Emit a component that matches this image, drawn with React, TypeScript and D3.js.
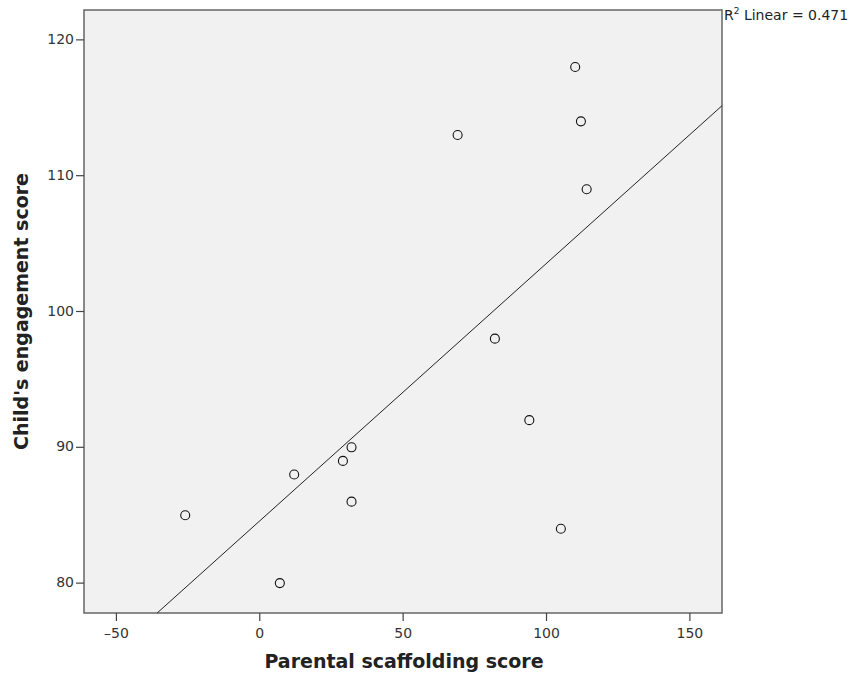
import * as d3 from "d3";

const scaffolding = [-26, 7, 12, 29, 32, 32, 69, 82, 94, 105, 110, 112, 114];
const engagement = [85, 80, 88, 89, 90, 86, 113, 98, 92, 84, 118, 114, 109];
const xTicks = [-50, 0, 50, 100, 150];
const yTicks = [80, 90, 100, 110, 120];
const rSquaredLabel = "0.471";

export default function App() {
  const width = 857;
  const height = 676;
  const left = 84;
  const right = 722;
  const top = 10;
  const bottom = 613;

  const x = d3.scaleLinear().domain([-61.3, 161.2]).range([left, right]);
  const y = d3.scaleLinear().domain([77.8, 122.2]).range([bottom, top]);

  // least squares fit line
  const mx = d3.mean(scaffolding) || 0;
  const my = d3.mean(engagement) || 0;
  let sxy = 0;
  let sxx = 0;
  scaffolding.forEach((v, i) => {
    sxy += (v - mx) * (engagement[i] - my);
    sxx += (v - mx) * (v - mx);
  });
  const slope = sxy / sxx;
  const intercept = my - slope * mx;
  const [x0, x1] = x.domain();
  const [y0] = y.domain();
  // clip the line to the plot frame
  const xStart = Math.max(x0, (y0 - intercept) / slope);
  const lineData: [number, number][] = [
    [xStart, intercept + slope * xStart],
    [x1, intercept + slope * x1],
  ];
  const line = d3
    .line<[number, number]>()
    .x((d) => x(d[0]))
    .y((d) => y(d[1]));

  const font = "'DejaVu Sans', sans-serif";

  return (
    <svg width={width} height={height} style={{ position: "absolute", left: 0, top: 0 }}>
      <rect x={0} y={0} width={width} height={height} fill="#fff" />
      <rect
        x={left}
        y={top}
        width={right - left}
        height={bottom - top}
        fill="#f1f1f1"
        stroke="#666"
        strokeWidth={1.5}
      />
      {yTicks.map((t) => (
        <g key={t}>
          <line x1={left - 8} x2={left} y1={y(t)} y2={y(t)} stroke="#444" strokeWidth={1.2} />
          <text
            x={left - 10}
            y={y(t)}
            textAnchor="end"
            dominantBaseline="middle"
            fontFamily={font}
            fontSize={14}
            fill="#333"
          >
            {t}
          </text>
        </g>
      ))}
      {xTicks.map((t) => (
        <g key={t}>
          <line x1={x(t)} x2={x(t)} y1={bottom} y2={bottom + 8} stroke="#444" strokeWidth={1.2} />
          <text
            x={x(t)}
            y={bottom + 21}
            textAnchor="middle"
            dominantBaseline="middle"
            fontFamily={font}
            fontSize={14}
            fill="#333"
          >
            {t < 0 ? "\u2013" + String(-t) : t}
          </text>
        </g>
      ))}
      <path d={line(lineData) || ""} fill="none" stroke="#222" strokeWidth={1} />
      {scaffolding.map((v, i) => (
        <circle
          key={i}
          cx={x(v)}
          cy={y(engagement[i])}
          r={4.5}
          fill="none"
          stroke="#111"
          strokeWidth={1.1}
        />
      ))}
      <text x={724} y={20} fontFamily={font} fontSize={14} fill="#222">
        R<tspan dy={-6} fontSize={9}>2</tspan>
        <tspan dy={6}> Linear = {rSquaredLabel}</tspan>
      </text>
      <text
        x={(left + right) / 2 + 1}
        y={662}
        textAnchor="middle"
        dominantBaseline="middle"
        fontFamily={font}
        fontSize={19}
        fontWeight="bold"
        fill="#222"
      >
        Parental scaffolding score
      </text>
      <text
        transform={`translate(22,${(top + bottom) / 2}) rotate(-90)`}
        textAnchor="middle"
        dominantBaseline="middle"
        fontFamily={font}
        fontSize={19}
        fontWeight="bold"
        fill="#222"
      >
        Child's engagement score
      </text>
    </svg>
  );
}
